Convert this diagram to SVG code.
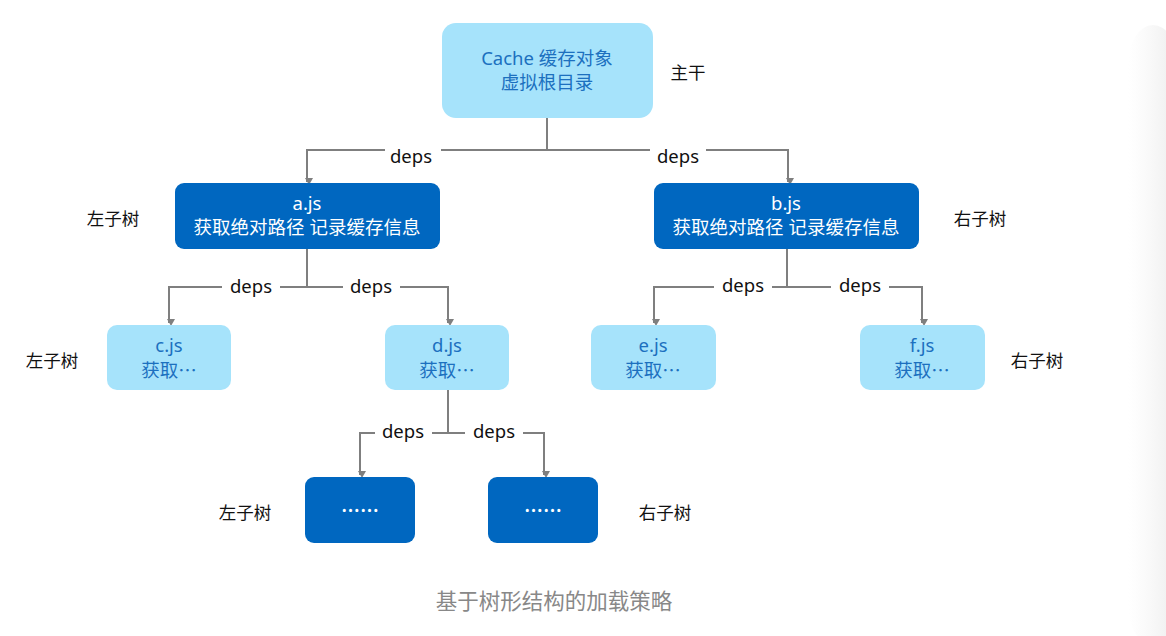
<svg xmlns="http://www.w3.org/2000/svg" width="1166" height="636" viewBox="0 0 1166 636">
<defs>
<marker id="arr" markerWidth="8" markerHeight="8" refX="4" refY="6" orient="auto" markerUnits="userSpaceOnUse" viewBox="0 0 8 8">
<path d="M0,0 L8,0 L4,7 Z" fill="#7f7f7f" transform="rotate(-90 4 4)"/>
</marker>
<linearGradient id="edge" x1="0" y1="0" x2="1" y2="0">
<stop offset="0" stop-color="#f4f4f4" stop-opacity="0"/>
<stop offset="1" stop-color="#ececec" stop-opacity="1"/>
</linearGradient>
<style>
.light{fill:#a6e3fb}
.dark{fill:#0067c0}
.lt{fill:#1c70bf;font-family:"Noto Sans","Noto Sans CJK SC",sans-serif;font-size:18.5px;text-anchor:middle}
.ltc{fill:#1c70bf;font-family:"Noto Sans CJK SC",sans-serif;font-size:18.5px;text-anchor:middle}
.dt{fill:#ffffff;font-family:"Noto Sans","Noto Sans CJK SC",sans-serif;font-size:18.5px;text-anchor:middle}
.dots{fill:#ffffff;font-family:"Noto Sans",sans-serif;font-size:24px;text-anchor:middle}
.side{fill:#111;font-family:"Noto Sans CJK SC",sans-serif;font-size:17.5px;text-anchor:middle}
.lbl{fill:#111;font-family:"Noto Sans","Noto Sans CJK SC",sans-serif;font-size:18.5px;text-anchor:middle}
.ln{fill:none;stroke:#7f7f7f;stroke-width:2}
.cap{fill:#888;font-family:"Noto Sans CJK SC",sans-serif;font-size:21.5px;text-anchor:middle}
</style>
</defs>
<rect width="1166" height="636" fill="#ffffff"/>
<rect x="1128" y="25" width="50" height="620" rx="40" fill="url(#edge)"/>

<g id="connectors">
<path class="ln" d="M547,118 V150"/>
<path class="ln" d="M547,150 H441 M385,150 H307 V182" marker-end="url(#arr)"/>
<path class="ln" d="M547,150 H650 M706,150 H788 V182" marker-end="url(#arr)"/>
<path class="ln" d="M307,249 V287"/>
<path class="ln" d="M307,287 H280 M222,287 H169 V323" marker-end="url(#arr)"/>
<path class="ln" d="M307,287 H343 M400,287 H448 V323" marker-end="url(#arr)"/>
<path class="ln" d="M787,249 V287"/>
<path class="ln" d="M787,287 H772 M714,287 H654 V323" marker-end="url(#arr)"/>
<path class="ln" d="M787,287 H831 M889,287 H922 V323" marker-end="url(#arr)"/>
<path class="ln" d="M448,390 V433"/>
<path class="ln" d="M448,433 H432 M375,433 H360 V475" marker-end="url(#arr)"/>
<path class="ln" d="M448,433 H465 M523,433 H544 V475" marker-end="url(#arr)"/>
<text class="lbl" x="411" y="163">deps</text>
<text class="lbl" x="678" y="163">deps</text>
<text class="lbl" x="251" y="293">deps</text>
<text class="lbl" x="371" y="293">deps</text>
<text class="lbl" x="743" y="292">deps</text>
<text class="lbl" x="860" y="292">deps</text>
<text class="lbl" x="403" y="438">deps</text>
<text class="lbl" x="494" y="438">deps</text>
</g>

<g id="root">
<rect class="light" x="442" y="23" width="211" height="95" rx="14"/>
<text class="lt" x="547" y="65">Cache 缓存对象</text>
<text class="lt" x="547" y="89">虚拟根目录</text>
</g>
<g id="label-trunk"><text class="side" x="688" y="79">主干</text></g>

<g id="a">
<rect class="dark" x="175" y="183" width="265" height="66" rx="9"/>
<text class="dt" x="307" y="210">a.js</text>
<text class="dt" x="307" y="234">获取绝对路径 记录缓存信息</text>
</g>
<g id="b">
<rect class="dark" x="654" y="183" width="265" height="66" rx="9"/>
<text class="dt" x="786" y="210">b.js</text>
<text class="dt" x="786" y="234">获取绝对路径 记录缓存信息</text>
</g>
<g id="label-a"><text class="side" x="113" y="225">左子树</text></g>
<g id="label-b"><text class="side" x="980" y="225">右子树</text></g>

<g id="c">
<rect class="light" x="107" y="325" width="124" height="65" rx="10"/>
<text class="lt" x="169" y="352">c.js</text>
<text class="ltc" x="169" y="377">获取…</text>
</g>
<g id="d">
<rect class="light" x="385" y="325" width="124" height="65" rx="10"/>
<text class="lt" x="447" y="352">d.js</text>
<text class="ltc" x="447" y="377">获取…</text>
</g>
<g id="e">
<rect class="light" x="591" y="325" width="125" height="65" rx="10"/>
<text class="lt" x="653" y="352">e.js</text>
<text class="ltc" x="653" y="377">获取…</text>
</g>
<g id="f">
<rect class="light" x="860" y="325" width="125" height="65" rx="10"/>
<text class="lt" x="922" y="352">f.js</text>
<text class="ltc" x="922" y="377">获取…</text>
</g>
<g id="label-c"><text class="side" x="52" y="367">左子树</text></g>
<g id="label-f"><text class="side" x="1037" y="367">右子树</text></g>

<g id="g1">
<rect class="dark" x="305" y="477" width="110" height="66" rx="9"/>
<text class="dots" x="360" y="512">……</text>
</g>
<g id="g2">
<rect class="dark" x="488" y="477" width="110" height="66" rx="9"/>
<text class="dots" x="543" y="512">……</text>
</g>
<g id="label-g1"><text class="side" x="245" y="519">左子树</text></g>
<g id="label-g2"><text class="side" x="665" y="519">右子树</text></g>

<g id="caption"><text class="cap" x="554" y="609">基于树形结构的加载策略</text></g>
</svg>
